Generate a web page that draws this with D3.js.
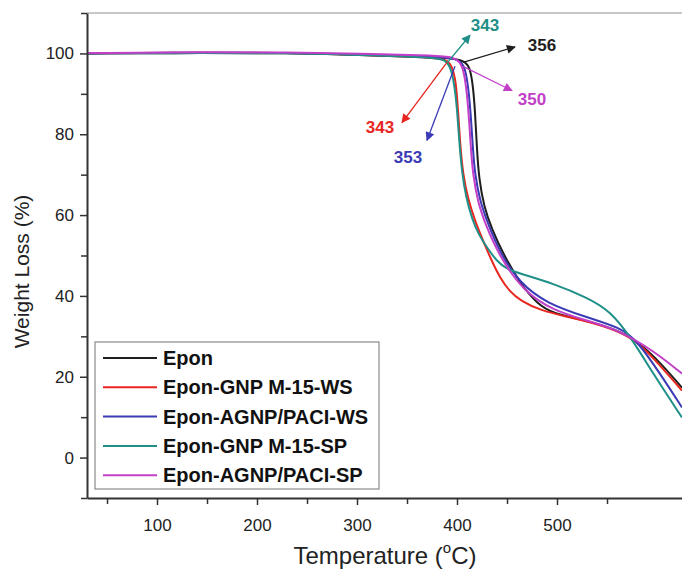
<!DOCTYPE html>
<html>
<head>
<meta charset="utf-8">
<script src="https://cdn.jsdelivr.net/npm/d3@7/dist/d3.min.js"></script>
<style>
  body { margin: 0; background: #fff; }
  svg { display: block; font-family: "Liberation Sans", Arial, sans-serif; }
</style>
</head>
<body>
<div id="chart"></div>
<script>
// TGA curves: [temperature (°C), weight (%)]
const epon = [[30,100],[150,100.1],[230,100.1],[300,99.6],[383,99.0],[400,98.6],[408,98.0],[413,96.5],[416,92.0],[418,86.0],[420,76.0],[422,69.0],[427,62.0],[435,56.5],[446,50.5],[463,43.1],[480,38.1],[496,35.6],[530,33.9],[563,31.4],[583,28.2],[603,23.6],[625,17.3]];
const gnpWs = [[30,100],[150,100.2],[230,100.2],[300,99.7],[383,98.9],[390,98.3],[395,97.0],[399,93.0],[401,86.0],[403,78.0],[406,70.0],[411,64.0],[418,58.5],[426,53.7],[435,48.5],[443,44.5],[453,41.0],[463,38.9],[483,36.4],[513,34.7],[546,32.7],[576,29.7],[596,24.8],[625,16.6]];
const agnpWs = [[30,100],[150,100.2],[230,100.2],[300,99.7],[383,99.3],[398,98.7],[405,97.8],[409,95.5],[412,90.0],[414,84.0],[416,76.0],[418,70.0],[423,63.5],[430,58.5],[443,50.5],[463,43.1],[490,38.1],[530,34.7],[563,32.2],[580,29.0],[603,20.8],[625,12.4]];
const gnpSp = [[30,100],[150,100.1],[230,100.1],[300,99.6],[380,99.0],[388,98.3],[393,97.0],[397,93.0],[400,86.6],[402,79.0],[405,70.3],[409,64.5],[415,59.0],[422,55.0],[430,52.0],[440,48.5],[450,46.6],[463,45.5],[496,43.1],[530,39.6],[553,36.4],[576,29.0],[596,20.8],[625,9.9]];
const agnpSp = [[30,100.1],[150,100.3],[230,100.3],[300,99.9],[383,99.5],[396,99.0],[403,98.0],[407,95.5],[410,90.0],[412,84.0],[414,76.0],[416,70.0],[421,63.0],[428,58.0],[443,49.5],[466,41.3],[496,36.4],[530,33.9],[563,31.4],[596,26.5],[625,20.8]];

const seriesNames = ['Epon', 'Epon-GNP M-15-WS', 'Epon-AGNP/PACI-WS', 'Epon-GNP M-15-SP', 'Epon-AGNP/PACI-SP'];
const seriesData = [epon, gnpWs, agnpWs, gnpSp, agnpSp];
const seriesColors = ['#1e1e1e', '#e8261f', '#3b3bb5', '#1f8f88', '#c23fc8'];

// onset annotations: label, arrow start, arrow tip, label anchor (data units)
const onsetLabels = ['343', '356', '350', '343', '353'];
const onsetColors = ['#1f8f88', '#1e1e1e', '#c23fc8', '#e8261f', '#3b3bb5'];
const arrowFrom = [[390, 97.6], [406, 97.8], [406, 96.8], [390, 97.8], [398, 96.8]];
const arrowTo = [[413, 104.5], [458, 101.6], [455, 90.8], [345, 82.9], [370, 78.5]];
const labelAt = [[428, 105.6], [485, 100.6], [475, 87.2], [323, 80.2], [351, 72.8]];

const xTicks = [100, 200, 300, 400, 500];
const xMinor = [50, 150, 250, 350, 450, 550];
const yTicks = [0, 20, 40, 60, 80, 100];
const yMinor = [-10, 10, 30, 50, 70, 90, 110];

const width = 682, height = 569;
const margin = { left: 87, right: 0, top: 13, bottom: 71 };

const svg = d3.select('#chart').append('svg')
  .attr('width', width)
  .attr('height', height);

const x = d3.scaleLinear().domain([30, 625]).range([margin.left, width - margin.right]);
const y = d3.scaleLinear().domain([-10, 110]).range([height - margin.bottom, margin.top]);

// top frame line
svg.append('line')
  .attr('x1', x(30)).attr('x2', x(625))
  .attr('y1', y(110)).attr('y2', y(110))
  .attr('stroke', '#c8c8c8').attr('stroke-width', 2);

svg.append('clipPath').attr('id', 'plot-clip')
  .append('rect')
  .attr('x', margin.left).attr('y', margin.top)
  .attr('width', width - margin.left).attr('height', height - margin.top - margin.bottom);

// curves
const line = d3.line()
  .x(d => x(d[0]))
  .y(d => y(d[1]))
  .curve(d3.curveBasis);

svg.append('g').attr('clip-path', 'url(#plot-clip)')
  .selectAll('path')
  .data(seriesData)
  .enter()
  .append('path')
  .attr('d', line)
  .attr('fill', 'none')
  .attr('stroke', (d, i) => seriesColors[i])
  .attr('stroke-width', 2);

// arrow markers
const defs = svg.append('defs');
onsetColors.forEach((c, i) => {
  defs.append('marker')
    .attr('id', 'arrow' + i)
    .attr('viewBox', '0 0 10 10')
    .attr('refX', 9).attr('refY', 5)
    .attr('markerWidth', 10).attr('markerHeight', 9)
    .attr('markerUnits', 'userSpaceOnUse')
    .attr('orient', 'auto')
    .append('path')
    .attr('d', 'M0,0 L10,5 L0,10 Z')
    .attr('fill', c);
});

const notes = svg.append('g');
onsetLabels.forEach((lab, i) => {
  notes.append('line')
    .attr('x1', x(arrowFrom[i][0])).attr('y1', y(arrowFrom[i][1]))
    .attr('x2', x(arrowTo[i][0])).attr('y2', y(arrowTo[i][1]))
    .attr('stroke', onsetColors[i])
    .attr('stroke-width', 1.3)
    .attr('marker-end', `url(#arrow${i})`);
  notes.append('text')
    .attr('x', x(labelAt[i][0])).attr('y', y(labelAt[i][1]))
    .attr('text-anchor', 'middle')
    .attr('font-size', '17px')
    .attr('font-weight', 'bold')
    .attr('fill', onsetColors[i])
    .text(lab);
});

// axes
const axisColor = '#333';
svg.append('g')
  .attr('transform', `translate(0,${y(-10)})`)
  .call(d3.axisBottom(x).tickValues(xTicks).tickSize(7).tickSizeOuter(0).tickPadding(14));
svg.append('g')
  .attr('transform', `translate(0,${y(-10)})`)
  .call(d3.axisBottom(x).tickValues(xMinor).tickSize(6).tickSizeOuter(0).tickFormat(''))
  .select('.domain').remove();

svg.append('g')
  .attr('transform', `translate(${margin.left},0)`)
  .call(d3.axisLeft(y).tickValues(yTicks).tickSize(7).tickSizeOuter(0).tickPadding(6));
svg.append('g')
  .attr('transform', `translate(${margin.left},0)`)
  .call(d3.axisLeft(y).tickValues(yMinor).tickSize(6).tickSizeOuter(0).tickFormat(''))
  .select('.domain').remove();

svg.selectAll('.domain').attr('stroke', axisColor).attr('stroke-width', 2);
svg.selectAll('.tick line').attr('stroke', axisColor).attr('stroke-width', 1.5);
svg.selectAll('.tick text')
  .attr('fill', '#222')
  .attr('font-size', '17px')
  .attr('font-family', '"Liberation Sans", Arial, sans-serif');

// axis titles
svg.append('text')
  .attr('transform', `translate(29,${(y(-10) + y(110)) / 2 + 16}) rotate(-90)`)
  .attr('text-anchor', 'middle')
  .attr('font-size', '21px')
  .attr('fill', '#222')
  .text('Weight Loss (%)');

const xTitle = svg.append('text')
  .attr('x', 385)
  .attr('y', 564)
  .attr('text-anchor', 'middle')
  .attr('font-size', '24px')
  .attr('fill', '#222');
xTitle.append('tspan').text('Temperature (');
xTitle.append('tspan').attr('font-size', '15px').attr('dy', -11).text('o');
xTitle.append('tspan').attr('dy', 11).text('C)');

// legend
const legend = svg.append('g').attr('transform', 'translate(95,342)');
legend.append('rect')
  .attr('width', 284).attr('height', 147)
  .attr('fill', '#fff')
  .attr('stroke', '#8a8a8a')
  .attr('stroke-width', 1.2);

const rows = legend.selectAll('.row')
  .data(seriesNames)
  .enter()
  .append('g')
  .attr('class', 'row')
  .attr('transform', (d, i) => `translate(0,${16 + i * 29.3})`);

rows.append('line')
  .attr('x1', 8).attr('x2', 62)
  .attr('stroke', (d, i) => seriesColors[i])
  .attr('stroke-width', 2);

rows.append('text')
  .attr('x', 68)
  .attr('y', 7)
  .attr('font-size', '20px')
  .attr('font-weight', 'bold')
  .attr('fill', '#111')
  .text(d => d);
</script>
</body>
</html>
